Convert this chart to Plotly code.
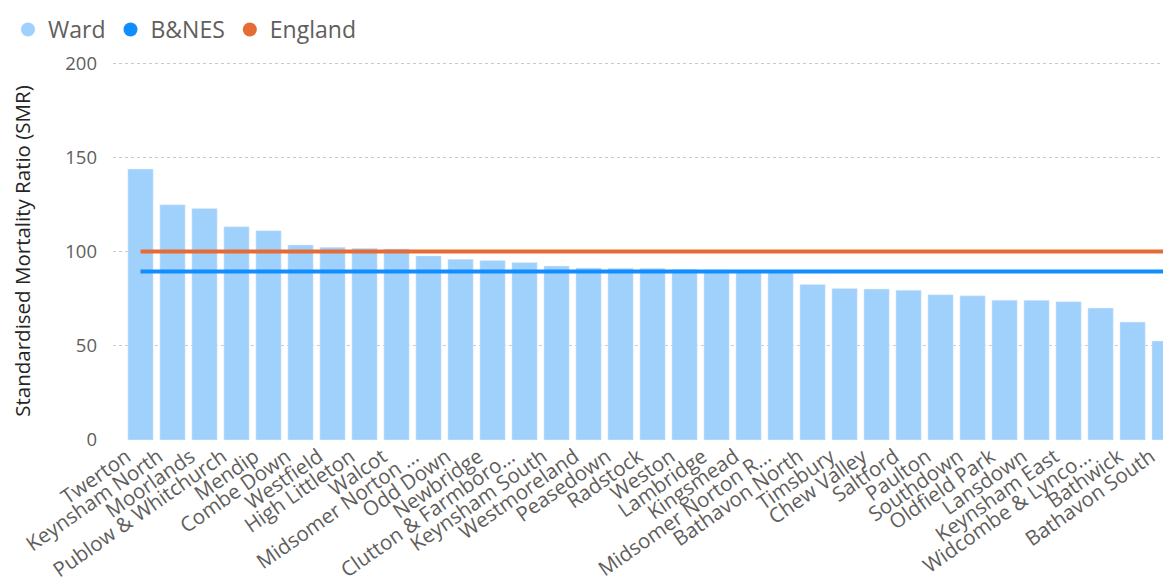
import plotly.graph_objects as go

wards = ["Twerton", "Keynsham North", "Moorlands", "Publow & Whitchurch", "Mendip",
         "Combe Down", "Westfield", "High Littleton", "Walcot", "Midsomer Norton …",
         "Odd Down", "Newbridge", "Clutton & Farmboro…", "Keynsham South", "Westmoreland",
         "Peasedown", "Radstock", "Weston", "Lambridge", "Kingsmead",
         "Midsomer Norton R…", "Bathavon North", "Timsbury", "Chew Valley", "Saltford",
         "Paulton", "Southdown", "Oldfield Park", "Lansdown", "Keynsham East",
         "Widcombe & Lynco…", "Bathwick", "Bathavon South"]
ward_smr = [143.8, 124.8, 122.9, 113.2, 111.1, 103.5, 102.3, 101.7, 101.4, 97.7,
            95.9, 95.2, 94.2, 92.3, 91.3, 91.2, 91.1, 90.6, 90.2, 89.9,
            89.7, 82.5, 80.4, 80.1, 79.5, 77.1, 76.5, 74.2, 74.1, 73.4,
            70.0, 62.6, 52.5]
bnes_smr = 89.4
england_smr = 100

c_ward = "#A0D0FC"
c_bnes = "#118DFF"
c_eng = "#E66C37"
grey = "#605E5C"
font = "Open Sans"

fig = go.Figure()
fig.add_trace(go.Bar(x=wards, y=ward_smr, marker_color=c_ward, showlegend=False))
fig.add_trace(go.Scatter(x=wards, y=[bnes_smr] * len(wards), mode="lines",
                         line=dict(color=c_bnes, width=4), showlegend=False))
fig.add_trace(go.Scatter(x=wards, y=[england_smr] * len(wards), mode="lines",
                         line=dict(color=c_eng, width=4), showlegend=False))

# legend-only entries (circle markers like the original)
for name, col in [("Ward", c_ward), ("B&NES", c_bnes), ("England", c_eng)]:
    fig.add_trace(go.Scatter(x=[None], y=[None], mode="markers", name=name,
                             marker=dict(color=col, size=14, symbol="circle")))

# page body has an 8px margin, so margins are shifted by 8px
fig.update_layout(
    width=1171, height=586,
    margin=dict(l=105, r=8, t=54, b=154, autoexpand=False),
    plot_bgcolor="white", paper_bgcolor="white",
    font=dict(family=font, color=grey),
    bargap=0.21,
    legend=dict(orientation="h", xref="container", yref="container",
                x=0.0, y=1.0, xanchor="left", yanchor="top",
                font=dict(size=23, color=grey), itemwidth=30, tracegroupgap=0),
)
fig.update_xaxes(range=[-0.86, 32.2], tickangle=-35, tickfont=dict(size=20.5, color=grey),
                 showgrid=False, showline=False, ticks="", automargin=False,
                 ticklabelshift=-14)
fig.update_yaxes(range=[0, 200.6], tickvals=[0, 50, 100, 150, 200],
                 tickfont=dict(size=18.5, color=grey), automargin=False,
                 ticklabelstandoff=15,
                 showgrid=True, gridcolor="#C8C8C8", griddash="dot", gridwidth=1,
                 zeroline=False, showline=False, ticks="",
                 title=dict(text="Standardised Mortality Ratio (SMR)",
                            font=dict(size=20.5, color="#252423"), standoff=44))

fig.write_html("out.html")
